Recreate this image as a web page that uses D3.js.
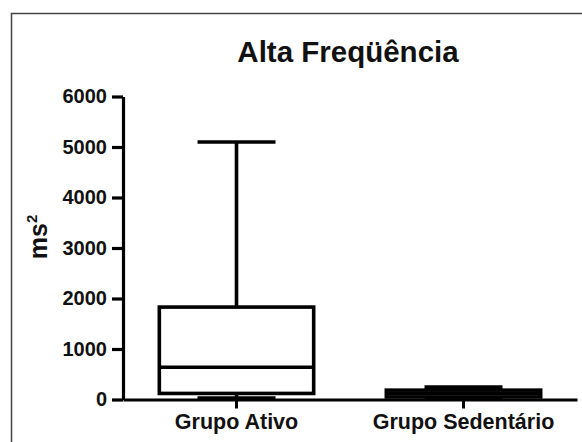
<!DOCTYPE html>
<html>
<head>
<meta charset="utf-8">
<script src="https://cdn.jsdelivr.net/npm/d3@7"></script>
<style>
  html, body { margin: 0; padding: 0; background: #fff; }
  svg { display: block; }
  text { font-family: "Liberation Sans", Arial, Helvetica, sans-serif; font-weight: bold; fill: #111; }
</style>
</head>
<body>
<script>
// ---- data ----
const title = "Alta Freqüência";
const yLabel = "ms";
const yLabelSup = "2";
const categories = ["Grupo Ativo", "Grupo Sedentário"];
const mins    = [30, 10];
const q1s     = [120, 50];
const medians = [640, 115];
const q3s     = [1830, 185];
const maxs    = [5100, 245];
const yTicks  = [0, 1000, 2000, 3000, 4000, 5000, 6000];

const W = 582, H = 442;
const svg = d3.select("body").append("svg").attr("width", W).attr("height", H);

// frame
svg.append("path")
  .attr("d", "M11.5,442 V13.5 H582")
  .attr("fill", "none").attr("stroke", "#444").attr("stroke-width", 1.5);

const x = d3.scaleBand().domain(categories).range([123, 577]).paddingInner(0.32).paddingOuter(0.16);
const y = d3.scaleLinear().domain([0, 6000]).range([399.5, 96.5]);

// title
svg.append("text").attr("x", 348).attr("y", 62)
  .attr("text-anchor", "middle").attr("font-size", 29.5).text(title);

// y axis label
const yl = svg.append("text")
  .attr("transform", "translate(47,237) rotate(-90)")
  .attr("text-anchor", "middle").attr("font-size", 25);
yl.append("tspan").text(yLabel);
yl.append("tspan").attr("font-size", 15).attr("dy", -10).text(yLabelSup);

// y axis
const yAxis = svg.append("g").attr("transform", "translate(123,0)")
  .call(d3.axisLeft(y).tickValues(yTicks).tickSize(11).tickPadding(5).tickFormat(d3.format("d")).tickSizeOuter(0));
yAxis.select(".domain").attr("stroke", "#000").attr("stroke-width", 3.2);
yAxis.selectAll(".tick line").attr("stroke", "#000").attr("stroke-width", 3.2);
yAxis.selectAll(".tick text").attr("font-size", 20).attr("font-family", null).attr("fill", "#111");

// x axis
const xAxis = svg.append("g").attr("transform", `translate(0,${y(0)})`)
  .call(d3.axisBottom(x).tickSize(9).tickPadding(6).tickSizeOuter(0));
xAxis.select(".domain").attr("stroke", "#000").attr("stroke-width", 3.2);
xAxis.selectAll(".tick line").attr("stroke", "#000").attr("stroke-width", 3);
xAxis.selectAll(".tick text").attr("font-size", 21.5).attr("font-family", null).attr("fill", "#111")
  .attr("dy", null).attr("y", 29);

// boxes
const sw = 3.6;
const capW = 78;
categories.forEach((c, i) => {
  const cx = x(c) + x.bandwidth() / 2;
  const g = svg.append("g").attr("stroke", "#000").attr("stroke-width", sw).attr("fill", "none");
  // whiskers
  g.append("line").attr("x1", cx).attr("x2", cx).attr("y1", y(maxs[i])).attr("y2", y(q3s[i]));
  g.append("line").attr("x1", cx).attr("x2", cx).attr("y1", y(q1s[i])).attr("y2", y(mins[i]));
  g.append("line").attr("x1", cx - capW / 2).attr("x2", cx + capW / 2).attr("y1", y(maxs[i])).attr("y2", y(maxs[i]));
  g.append("line").attr("x1", cx - capW / 2).attr("x2", cx + capW / 2).attr("y1", y(mins[i])).attr("y2", y(mins[i]));
  // box
  g.append("rect").attr("x", x(c)).attr("width", x.bandwidth())
    .attr("y", y(q3s[i])).attr("height", y(q1s[i]) - y(q3s[i]));
  g.append("line").attr("x1", x(c)).attr("x2", x(c) + x.bandwidth())
    .attr("y1", y(medians[i])).attr("y2", y(medians[i]));
});
</script>
</body>
</html>
